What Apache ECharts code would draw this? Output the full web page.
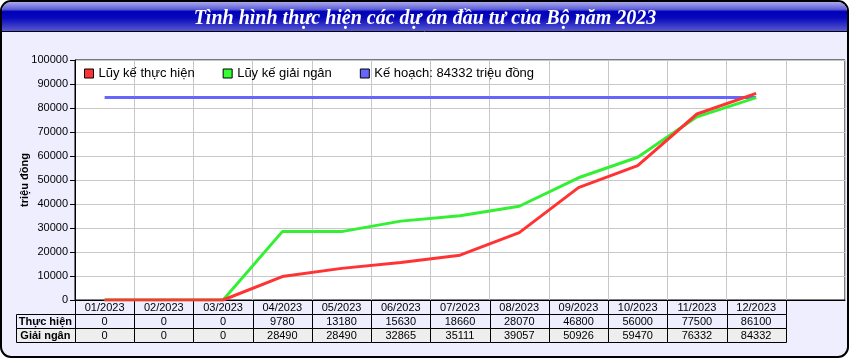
<!DOCTYPE html>
<html>
<head>
<meta charset="utf-8">
<script src="https://cdn.jsdelivr.net/npm/echarts@6/dist/echarts.min.js"></script>
<style>
html,body{margin:0;padding:0;background:#fff;}
#c{width:850px;height:360px;}
</style>
</head>
<body>
<div id="c"></div>
<script>
var months = ['01/2023','02/2023','03/2023','04/2023','05/2023','06/2023','07/2023','08/2023','09/2023','10/2023','11/2023','12/2023'];
var thucHien = [0,0,0,9780,13180,15630,18660,28070,46800,56000,77500,86100];
var giaiNgan = [0,0,0,28490,28490,32865,35111,39057,50926,59470,76332,84332];
var keHoachValue = 84332;
var keHoach = months.map(function(){ return keHoachValue; });
var rowLabels = ['', 'Thực hiện', 'Giải ngân'];

var titleText = 'Tình hình thực hiện các dự án đầu tư của Bộ năm 2023';
var nameTH = 'Lũy kế thực hiện';
var nameGN = 'Lũy kế giải ngân';
var nameKH = 'Kế hoạch: ' + keHoachValue + ' triệu đồng';

var chart = echarts.init(document.getElementById('c'), null, {renderer:'canvas'});

var GL = 75, GT = 60, GW = 770, GH = 240;
var tableW = GW * 12 / 13;
var rowH = 14;

var tableData = [];
months.forEach(function(m, i){
  tableData.push([i, 0, m]);
  tableData.push([i, 1, String(thucHien[i])]);
  tableData.push([i, 2, String(giaiNgan[i])]);
});

var rowFill = ['#EEEEFF', '#EEEEFF', '#EEEEEE'];

function cell(x, y, w, h, fill, text, bold){
  return [{
    type:'rect',
    shape:{x:Math.round(x)+0.5, y:Math.round(y)+0.5, width:Math.round(x+w)-Math.round(x), height:Math.round(y+h)-Math.round(y)},
    style:{fill:fill, stroke:'#000', lineWidth:1}
  },{
    type:'text',
    x: x + w/2, y: y + h/2 + 1,
    style:{text:text, fill:'#000', align:'center', verticalAlign:'middle',
      fontSize:11, fontFamily:'"Liberation Sans", Arial, sans-serif', fontWeight: bold ? 'bold':'normal'}
  }];
}

var option = {
  animation:false,
  graphic:[
    {type:'rect', z:-10, shape:{x:1, y:1, width:847, height:356, r:10},
      style:{fill:'#EEEEFF', stroke:'#000', lineWidth:2}},
    {type:'rect', z:-9, shape:{x:2, y:2, width:845, height:29, r:[9,9,0,0]},
      style:{fill:new echarts.graphic.LinearGradient(0,0,0,1,[
        {offset:0, color:'#A8A8EC'},
        {offset:0.25, color:'#6060D8'},
        {offset:0.33, color:'#0000B8'},
        {offset:0.55, color:'#0808BC'},
        {offset:1, color:'#5858D0'}
      ])}},
    {type:'line', z:-8, shape:{x1:2, y1:31.5, x2:847, y2:31.5}, style:{stroke:'#000', lineWidth:1}}
  ],
  title:{
    text:titleText,
    left:'center', top:4,
    textStyle:{color:'#fff', fontFamily:'"Liberation Serif", "Times New Roman", serif', fontStyle:'italic', fontWeight:'bold', fontSize:20}
  },
  legend:{
    left:84, top:67, padding:0,
    itemWidth:9, itemHeight:9, itemGap:28,
    icon:'rect',
    itemStyle:{borderColor:'#000', borderWidth:1},
    textStyle:{color:'#000', fontSize:13, fontFamily:'"Liberation Sans", Arial, sans-serif'},
    data:[nameTH, nameGN, nameKH]
  },
  grid:[
    {left:GL, top:GT, width:GW, height:GH, show:true, backgroundColor:'#fff', borderColor:'#000', borderWidth:1},
    {left:GL, top:GT+GH, width:tableW, height:rowH*3}
  ],
  xAxis:[
    {type:'category', gridIndex:0, data:months.concat(['']), boundaryGap:true,
      axisLine:{show:true, lineStyle:{color:'#000'}},
      axisTick:{show:false}, axisLabel:{show:false},
      splitLine:{show:true, interval:0, lineStyle:{color:'#C8C8C8', width:1}}},
    {type:'category', gridIndex:1, data:months, boundaryGap:true, show:false}
  ],
  yAxis:[
    {type:'value', gridIndex:0, min:0, max:100000, interval:10000,
      name:'triệu đồng', nameLocation:'middle', nameGap:45, nameMoveOverlap:false,
      nameTextStyle:{color:'#000', fontSize:11, fontWeight:'bold', fontFamily:'"Liberation Sans", Arial, sans-serif'},
      axisLine:{show:true, lineStyle:{color:'#000'}},
      axisTick:{show:true, length:5, lineStyle:{color:'#000'}},
      axisLabel:{color:'#000', fontSize:11, margin:7, fontFamily:'"Liberation Sans", Arial, sans-serif',
        formatter:function(v){ return String(v); }},
      splitLine:{show:true, lineStyle:{color:'#C8C8C8', width:1}}},
    {type:'category', gridIndex:1, data:rowLabels, inverse:true, show:false}
  ],
  series:[
    {name:nameKH, type:'line', xAxisIndex:0, yAxisIndex:0, data:keHoach, symbol:'none',
      itemStyle:{color:'#6666FF'}, lineStyle:{color:'#6666FF', width:3}, z:3},
    {name:nameGN, type:'line', xAxisIndex:0, yAxisIndex:0, data:giaiNgan, symbol:'none',
      itemStyle:{color:'#33FF33'}, lineStyle:{color:'#33F033', width:3}, z:4},
    {name:nameTH, type:'line', xAxisIndex:0, yAxisIndex:0, data:thucHien, symbol:'none',
      itemStyle:{color:'#FF3333'}, lineStyle:{color:'#FF3333', width:3}, z:5},
    {type:'custom', xAxisIndex:1, yAxisIndex:1, data:tableData, clip:false, silent:true,
      renderItem:function(params, api){
        var ci = api.value(0), ri = api.value(1);
        var c = api.coord([ci, ri]);
        var s = api.size([1, 1]);
        var x = c[0] - s[0]/2, y = c[1] - s[1]/2;
        var children = cell(x, y, s[0], s[1], rowFill[ri], tableData[params.dataIndex][2], false);
        if (ci === 0 && ri > 0) {
          children = children.concat(cell(x - s[0], y, s[0], s[1], rowFill[ri], rowLabels[ri], true));
        }
        return {type:'group', children:children};
      }}
  ]
};
chart.setOption(option);
</script>
</body>
</html>
